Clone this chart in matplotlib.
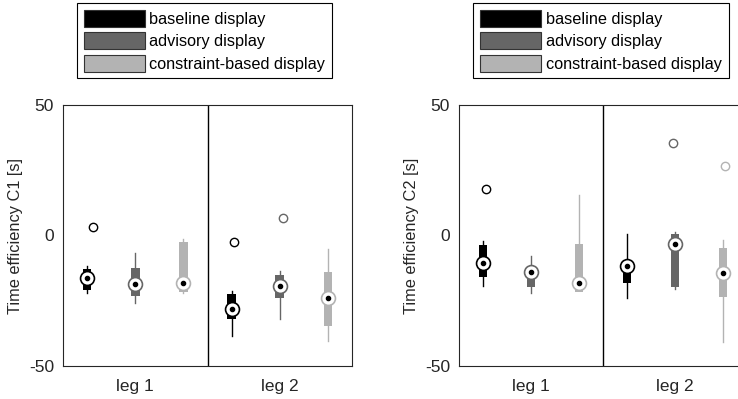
"""Compact box plots of time efficiency for the three display types."""
import matplotlib
matplotlib.use('Agg')
import matplotlib.pyplot as plt
from matplotlib.patches import Patch

plt.rcParams['font.family'] = ['Liberation Sans', 'DejaVu Sans']
plt.rcParams['axes.unicode_minus'] = False

legs = ['leg 1', 'leg 2']
displays = ['baseline display', 'advisory display', 'constraint-based display']

# rows: display, columns: leg
c1_lo = [[-22.2, -38.4], [-26.0, -32.1], [-21.9, -40.3]]
c1_q1 = [[-20.9, -32.1], [-23.2, -24.1], [-21.5, -34.7]]
c1_med = [[-16.4, -28.3], [-18.6, -19.3], [-18.1, -23.8]]
c1_q3 = [[-13.0, -22.5], [-12.6, -15.1], [-2.4, -13.9]]
c1_hi = [[-11.7, -21.3], [-6.8, -13.6], [-1.5, -5.3]]
# (display, leg, value, jitter)
c1_fliers = [(0, 0, 3.1, 0.039), (0, 1, -2.4, 0.016), (1, 1, 6.6, 0.021)]

c2_lo = [[-19.3, -24.1], [-21.9, -20.6], [-21.8, -40.7]]
c2_q1 = [[-15.8, -18.3], [-19.6, -19.9], [-21.8, -23.7]]
c2_med = [[-10.4, -11.6], [-13.9, -3.4], [-18.3, -14.5]]
c2_q3 = [[-3.6, -10.0], [-12.5, 0.6], [-3.3, -4.9]]
c2_hi = [[-2.0, 0.5], [-7.9, 1.5], [15.5, -1.7]]
c2_fliers = [(0, 0, 17.8, 0.019), (1, 1, 35.6, -0.012), (2, 1, 26.7, 0.016)]

colors = ['#000000', '#666666', '#b3b3b3']
offsets = [-1/3, 0, 1/3]
axis_color = '#262626'


def draw_panel(ax, lo, q1, med, q3, hi, fliers, ylabel):
    for d, c in enumerate(colors):
        pos = [g + 1 + offsets[d] for g in range(len(legs))]
        stats = [dict(whislo=lo[d][g], q1=q1[d][g], med=med[d][g],
                      q3=q3[d][g], whishi=hi[d][g], fliers=[])
                 for g in range(len(legs))]
        ax.bxp(stats, positions=pos, widths=0.06, patch_artist=True,
               showcaps=False, showfliers=False, manage_ticks=False,
               boxprops=dict(facecolor=c, edgecolor=c, linewidth=0),
               whiskerprops=dict(color=c, linewidth=1.0),
               medianprops=dict(visible=False))
        ax.plot(pos, med[d], 'o', ms=10, mfc='white', mec=c, mew=1.2,
                zorder=4)
        ax.plot(pos, med[d], 'o', ms=3, color='k', zorder=5)
    for d, g, v, j in fliers:
        ax.plot(g + 1 + offsets[d] + j, v, 'o', ms=6, mfc='none',
                mec=colors[d], mew=1.0, zorder=4)

    ax.axvline(1.5, color='k', linewidth=1.0)
    ax.set_xlim(0.5, 2.5)
    ax.set_ylim(-50, 50)
    ax.set_yticks([-50, 0, 50])
    ax.set_xticks([1, 2])
    ax.set_xticklabels(legs)
    ax.tick_params(axis='both', length=0, labelsize=12.5,
                   colors=axis_color)
    ax.tick_params(axis='x', pad=9.5)
    ax.tick_params(axis='y', pad=6.5)
    for s in ax.spines.values():
        s.set_color(axis_color)
        s.set_linewidth(0.8)
    ax.set_ylabel(ylabel, fontsize=11.8, color=axis_color)
    ax.yaxis.set_label_coords(-0.138, 0.5)


fig = plt.figure(figsize=(7.38, 3.99), dpi=100)
ax1 = fig.add_axes([63/738, 1 - 366/399, 289/738, 261/399])
ax2 = fig.add_axes([459/738, 1 - 366/399, 288/738, 261/399])

draw_panel(ax1, c1_lo, c1_q1, c1_med, c1_q3, c1_hi, c1_fliers,
           'Time efficiency C1 [s]')
draw_panel(ax2, c2_lo, c2_q1, c2_med, c2_q3, c2_hi, c2_fliers,
           'Time efficiency C2 [s]')

handles = [Patch(facecolor=c, edgecolor='#333333', linewidth=0.8)
           for c in colors]
for xc in (204.5/738, 601/738):
    leg = fig.legend(handles, displays, loc='upper center',
                     bbox_to_anchor=(xc, 0.993), fontsize=11.7,
                     handlelength=3.75, handleheight=1.23,
                     handletextpad=0.3, labelspacing=0.34,
                     borderpad=0.42, borderaxespad=0, fancybox=False,
                     framealpha=1)
    leg.get_frame().set_edgecolor('k')
    leg.get_frame().set_linewidth(0.8)

fig.savefig('out.png', dpi=100)
